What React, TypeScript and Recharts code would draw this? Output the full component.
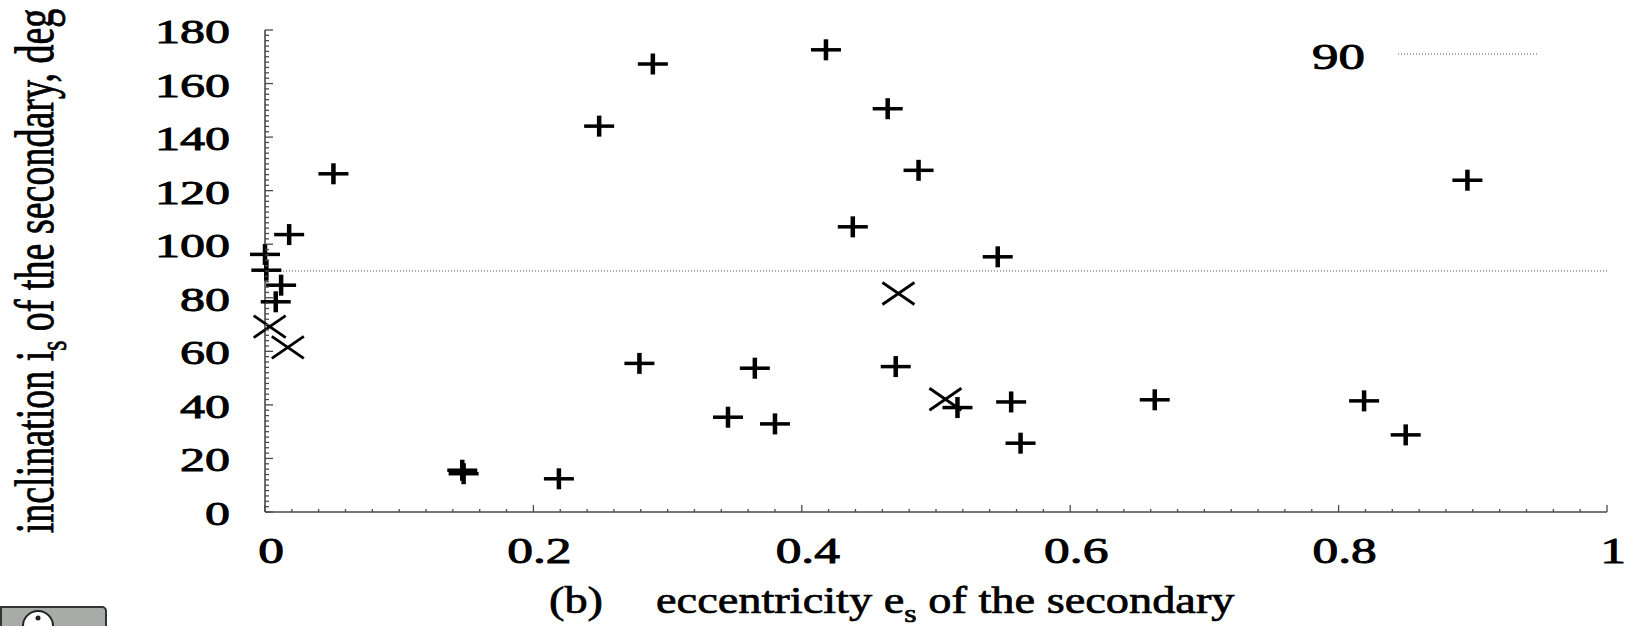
import { ScatterChart, Scatter, XAxis, YAxis, ReferenceLine } from "recharts";

// eccentricity / inclination
const plusE = [
  0.289, 0.249, 0.051, 0.018, 0.0, 0.001, 0.012, 0.008, 0.279, 0.147, 0.148,
  0.219, 0.418, 0.464, 0.487, 0.438, 0.546, 0.365, 0.47, 0.345, 0.38, 0.516,
  0.556, 0.563, 0.663, 0.819, 0.85, 0.896,
];
const plusI = [
  167.3, 144.1, 126.3, 103.6, 96.2, 90.3, 84.7, 78.5, 55.5, 15.6, 14.3, 12.4,
  172.6, 150.6, 127.6, 106.5, 95.3, 53.7, 54.3, 35.4, 32.9, 39.0, 41.1, 25.7,
  41.9, 41.5, 28.8, 123.9,
];
const crossE = [0.0035, 0.017, 0.472, 0.507];
const crossI = [69.2, 61.5, 81.6, 42.1];

const xMajorTicks = [0, 0.2, 0.4, 0.6, 0.8, 1];
const xTickLabels = ["0", "0.2", "0.4", "0.6", "0.8", "1"];
const yMajorTicks = [0, 20, 40, 60, 80, 100, 120, 140, 160, 180];
const yTickLabels = ["0", "20", "40", "60", "80", "100", "120", "140", "160", "180"];

// minor tick steps: 0.02 on x, 2 deg on y
const xMinorTicks = Array.from({ length: 51 }, (_, k) => +(k * 0.02).toFixed(2));
const yMinorTicks = Array.from({ length: 91 }, (_, k) => k * 2);

const plusData = plusE.map((e, k) => ({ e, i: plusI[k] }));
const crossData = crossE.map((e, k) => ({ e, i: crossI[k] }));

const FONT = '"Liberation Serif", "Times New Roman", serif';
const FRAME = "#4a4a4a";
const SX = 1.47; // the original picture is stretched sideways

const majorIndex = (list: number[], v: number) =>
  list.findIndex((t) => Math.abs(t - v) < 1e-6);

function BottomTick({ x, y, payload }: any) {
  const idx = majorIndex(xMajorTicks, payload.value);
  return (
    <g>
      <line x1={x} x2={x} y1={y} y2={y - (idx >= 0 ? 7 : 3)} stroke={FRAME} strokeWidth={1.3} />
      {idx >= 0 && (
        <text
          transform={`translate(${x + 6},${y + 51}) scale(${SX},1)`}
          textAnchor="middle"
          fontSize={35}
          fontFamily={FONT}
          fill="#000"
          stroke="#000"
          strokeWidth={0.9}
        >
          {xTickLabels[idx]}
        </text>
      )}
    </g>
  );
}

function TopTick({ x, y, payload }: any) {
  const idx = majorIndex(xMajorTicks, payload.value);
  return <line x1={x} x2={x} y1={y} y2={y + (idx >= 0 ? 7 : 3)} stroke={FRAME} strokeWidth={1.3} />;
}

function LeftTick({ x, y, payload }: any) {
  const idx = majorIndex(yMajorTicks, payload.value);
  return (
    <g>
      <line x1={x} x2={x + (idx >= 0 ? 8 : 4)} y1={y} y2={y} stroke={FRAME} strokeWidth={1.3} />
      {idx >= 0 && (
        <text
          transform={`translate(${x - 35},${y + 13}) scale(${SX},1)`}
          textAnchor="end"
          fontSize={34}
          fontFamily={FONT}
          fill="#000"
          stroke="#000"
          strokeWidth={0.9}
        >
          {yTickLabels[idx]}
        </text>
      )}
    </g>
  );
}

function RightTick({ x, y, payload }: any) {
  const idx = majorIndex(yMajorTicks, payload.value);
  return <line x1={x} x2={x - (idx >= 0 ? 9 : 5)} y1={y} y2={y} stroke={FRAME} strokeWidth={1.3} />;
}

function XTitle({ viewBox }: any) {
  const x0 = viewBox.x;
  const base = viewBox.y + 101;
  const k = 1.22;
  return (
    <g fontFamily={FONT} fontSize={38} fill="#000" stroke="#000" strokeWidth={0.7}>
      <text transform={`translate(${x0 + 284},${base}) scale(${k},1)`}>(b)</text>
      <text transform={`translate(${x0 + 391},${base}) scale(${k},1)`}>
        eccentricity e
        <tspan fontSize={26} dy={9}>s</tspan>
        <tspan dy={-9}> of the secondary</tspan>
      </text>
    </g>
  );
}

function YTitle({ viewBox }: any) {
  const cy = viewBox.y + viewBox.height / 2;
  return (
    <text
      transform={`translate(53,${cy}) rotate(-90) scale(1,${SX})`}
      textAnchor="middle"
      fontFamily={FONT}
      fontSize={38}
      fill="#000"
      stroke="#000"
      strokeWidth={0.6}
    >
      inclination i
      <tspan fontSize={26} dy={9}>s</tspan>
      <tspan dy={-9}> of the secondary, deg</tspan>
    </text>
  );
}

function PlusShape({ cx, cy }: any) {
  return (
    <g>
      <rect x={cx - 15} y={cy - 1.75} width={30} height={3.5} fill="#000" />
      <rect x={cx - 2.25} y={cy - 10.5} width={4.5} height={21} fill="#000" />
    </g>
  );
}

function CrossShape({ cx, cy }: any) {
  return (
    <g stroke="#000" strokeWidth={2.8}>
      <line x1={cx - 16} y1={cy - 11} x2={cx + 16} y2={cy + 11} />
      <line x1={cx - 16} y1={cy + 11} x2={cx + 16} y2={cy - 11} />
    </g>
  );
}

export default function App() {
  return (
    <div style={{ position: "absolute", left: 0, top: 0, width: 1625, height: 626, background: "#fff" }}>
      <ScatterChart width={1625} height={626} margin={{ top: 30, right: 18, bottom: 0, left: 0 }}>
        <XAxis
          xAxisId="top"
          orientation="top"
          type="number"
          domain={[0, 1]}
          ticks={xMinorTicks}
          interval={0}
          height={0}
          tickSize={0}
          tickMargin={0}
          tickLine={false}
          tick={(p: any) => <TopTick {...p} />}
          axisLine={{ stroke: FRAME, strokeWidth: 1.6 }}
        />
        <YAxis
          yAxisId="right"
          orientation="right"
          type="number"
          domain={[0, 180]}
          ticks={yMinorTicks}
          interval={0}
          width={0}
          tickSize={0}
          tickMargin={0}
          tickLine={false}
          tick={(p: any) => <RightTick {...p} />}
          axisLine={{ stroke: FRAME, strokeWidth: 1.6 }}
        />
        <XAxis
          xAxisId="main"
          dataKey="e"
          type="number"
          domain={[0, 1]}
          ticks={xMinorTicks}
          interval={0}
          height={114}
          tickSize={0}
          tickMargin={0}
          tickLine={false}
          tick={(p: any) => <BottomTick {...p} />}
          axisLine={{ stroke: FRAME, strokeWidth: 1.6 }}
          label={{ content: (p: any) => <XTitle {...p} /> }}
        />
        <YAxis
          yAxisId="main"
          dataKey="i"
          type="number"
          domain={[0, 180]}
          ticks={yMinorTicks}
          interval={0}
          width={265}
          tickSize={0}
          tickMargin={0}
          tickLine={false}
          tick={(p: any) => <LeftTick {...p} />}
          axisLine={{ stroke: FRAME, strokeWidth: 1.6 }}
          label={{ content: (p: any) => <YTitle {...p} /> }}
        />
        <ReferenceLine
          y={90}
          xAxisId="main"
          yAxisId="main"
          stroke="#555"
          strokeDasharray="1 2"
          strokeWidth={1.2}
        />
        <Scatter
          data={plusData}
          xAxisId="main"
          yAxisId="main"
          shape={(p: any) => <PlusShape {...p} />}
          isAnimationActive={false}
        />
        <Scatter
          data={crossData}
          xAxisId="main"
          yAxisId="main"
          shape={(p: any) => <CrossShape {...p} />}
          isAnimationActive={false}
        />
      </ScatterChart>
      <svg width={1625} height={626} style={{ position: "absolute", left: 0, top: 0, pointerEvents: "none" }}>
        <text
          transform={`translate(1312,69) scale(${SX},1)`}
          fontFamily={FONT}
          fontSize={36}
          fill="#000"
          stroke="#000"
          strokeWidth={0.9}
        >
          90
        </text>
        <line x1={1398} x2={1538} y1={54} y2={54} stroke="#555" strokeDasharray="1 2" strokeWidth={1.2} />
      </svg>
      <div
        style={{
          position: "absolute",
          left: 0,
          top: 606,
          width: 103,
          height: 24,
          background: "#a7aca8",
          border: "2px solid #333",
          borderRadius: "0 5px 0 0",
          overflow: "hidden",
        }}
      >
        <svg width={103} height={24} style={{ position: "absolute", left: 0, top: 0 }}>
          <circle cx={36} cy={18} r={15} fill="#fff" stroke="#222" strokeWidth={2} />
          <circle cx={36} cy={10} r={2.5} fill="#222" />
        </svg>
      </div>
    </div>
  );
}
